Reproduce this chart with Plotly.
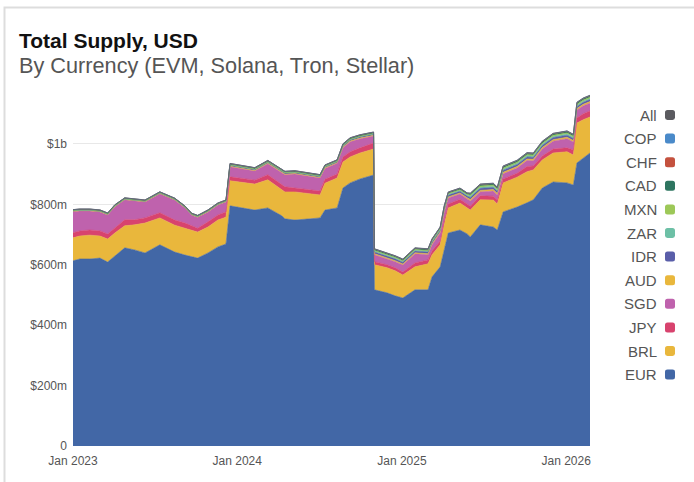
import plotly.graph_objects as go

# ---------------- data (values in $ millions) ----------------
dates = [
    "2023-01-01", "2023-01-16", "2023-02-07", "2023-03-02", "2023-03-19", "2023-04-04",
    "2023-04-26", "2023-05-18", "2023-06-10", "2023-07-13", "2023-08-15", "2023-09-07",
    "2023-09-22", "2023-10-05", "2023-10-28", "2023-11-19", "2023-12-02", "2023-12-07",
    "2023-12-16", "2024-01-18", "2024-02-09", "2024-03-09", "2024-04-09", "2024-04-16",
    "2024-05-08", "2024-06-11", "2024-07-03", "2024-07-14", "2024-08-10", "2024-08-23",
    "2024-09-08", "2024-09-30", "2024-10-30", "2024-11-01", "2024-11-29", "2024-12-17",
    "2025-01-03", "2025-01-30", "2025-02-28", "2025-03-09", "2025-03-27", "2025-04-05",
    "2025-04-14", "2025-05-10", "2025-05-26", "2025-06-02", "2025-06-24", "2025-07-23",
    "2025-08-01", "2025-08-14", "2025-09-14", "2025-10-06", "2025-10-20", "2025-11-09",
    "2025-12-03", "2026-01-03", "2026-01-17", "2026-01-25", "2026-02-08", "2026-02-23",
]

EUR = [613, 619, 619, 622, 609, 629, 656, 649, 639, 666, 642, 632, 626, 622, 639, 659, 666, 669,
       795, 788, 781, 788, 762, 752, 748, 752, 755, 781, 788, 854, 871, 884, 897,
       517, 507, 497, 490, 517, 517, 560, 593, 649, 705, 715, 702, 692, 732, 725, 715,
       775, 791, 805, 815, 854, 874, 871, 864, 937, 954, 970]
BRL = [76, 76, 79, 73, 76, 76, 73, 83, 99, 89, 89, 89, 89, 86, 86, 89, 89, 89,
       83, 83, 86, 93, 86, 89, 93, 83, 76, 89, 99, 86, 86, 86, 86,
       83, 83, 83, 76, 76, 86, 73, 73, 83, 83, 89, 86, 89, 83, 89, 86,
       96, 99, 103, 99, 93, 96, 103, 99, 132, 126, 119]
JPY = [17, 17, 17, 17, 17, 17, 20, 17, 17, 17, 17, 17, 13, 13, 17, 17, 17, 17,
       13, 13, 13, 17, 17, 17, 13, 13, 13, 13, 13, 17, 17, 17, 20,
       10, 10, 10, 10, 13, 13, 13, 13, 13, 13, 13, 13, 13, 13, 13, 13,
       13, 13, 17, 13, 13, 13, 13, 17, 17, 20, 20]
SGD = [70, 66, 63, 63, 63, 70, 66, 63, 53, 63, 66, 50, 36, 36, 33, 33, 33, 33,
       33, 33, 30, 36, 40, 40, 46, 43, 43, 36, 36, 30, 33, 30, 23,
       23, 20, 20, 23, 30, 17, 20, 26, 30, 20, 17, 17, 17, 13, 17, 17,
       17, 17, 20, 17, 23, 26, 30, 26, 26, 26, 26]
AUD = [1.0, 1.0, 1.0, 1.0, 1.0, 1.0, 1.0, 1.0, 1.0, 1.0, 1.0, 1.0, 1.0, 1.0, 1.0, 1.0, 1.0, 1.0,
       2.0, 2.0, 2.0, 2.0, 2.0, 2.0, 2.0, 2.0, 2.0, 2.0, 2.0, 2.5, 2.5, 2.5, 2.5,
       3.5, 3.5, 3.5, 3.5, 3.5, 3.5, 3.5, 3.5, 3.5, 3.5, 3.5, 3.5, 5.0, 5.0, 5.0, 5.0,
       5.0, 5.0, 5.0, 5.0, 5.0, 5.0, 5.0, 5.0, 5.0, 5.0, 5.0]
IDR = [1.5, 1.5, 1.5, 1.5, 1.5, 1.5, 1.5, 1.5, 1.5, 1.5, 1.5, 1.5, 1.5, 1.5, 1.5, 1.5, 1.5, 1.5,
       3.5, 3.5, 3.5, 3.5, 3.5, 3.5, 3.5, 3.5, 3.5, 3.5, 3.5, 4.0, 4.0, 4.0, 4.0,
       6.0, 6.0, 6.0, 6.0, 6.0, 6.0, 6.0, 6.0, 6.0, 6.0, 6.0, 6.0, 7.0, 7.0, 7.0, 7.0,
       7.0, 7.0, 7.0, 7.0, 7.0, 7.0, 7.0, 7.0, 7.0, 7.0, 7.0]
ZAR = [0.4, 0.4, 0.4, 0.4, 0.4, 0.4, 0.4, 0.4, 0.4, 0.4, 0.4, 0.4, 0.4, 0.4, 0.4, 0.4, 0.4, 0.4,
       0.8, 0.8, 0.8, 0.8, 0.8, 0.8, 0.8, 0.8, 0.8, 0.8, 0.8, 1.0, 1.0, 1.0, 1.0,
       2.5, 2.5, 2.5, 2.5, 2.5, 2.5, 2.5, 2.5, 2.5, 2.5, 2.5, 2.5, 3.5, 3.5, 3.5, 3.5,
       3.5, 3.5, 3.5, 3.5, 3.5, 3.5, 3.5, 3.5, 3.5, 3.5, 3.5]
MXN = [0.4, 0.4, 0.4, 0.4, 0.4, 0.4, 0.4, 0.4, 0.4, 0.4, 0.4, 0.4, 0.4, 0.4, 0.4, 0.4, 0.4, 0.4,
       0.8, 0.8, 0.8, 0.8, 0.8, 0.8, 0.8, 0.8, 0.8, 0.8, 0.8, 1.0, 1.0, 1.0, 1.0,
       2.5, 2.5, 2.5, 2.5, 2.5, 2.5, 2.5, 2.5, 2.5, 2.5, 2.5, 2.5, 4.0, 4.0, 4.0, 4.0,
       4.0, 4.0, 4.0, 4.0, 4.0, 4.0, 4.0, 4.0, 4.0, 4.0, 4.0]
CAD = [2.6, 2.6, 2.6, 2.6, 2.6, 2.6, 2.6, 2.6, 2.6, 2.6, 2.6, 2.6, 2.6, 2.6, 2.6, 2.6, 2.6, 2.6,
       3.5, 3.5, 3.5, 3.5, 3.5, 3.5, 3.5, 3.5, 3.5, 3.5, 3.5, 4.0, 4.0, 4.0, 4.0,
       4.0, 4.0, 4.0, 4.0, 4.0, 4.0, 4.0, 4.0, 4.0, 4.0, 4.0, 4.0, 4.5, 4.5, 4.5, 4.5,
       4.5, 4.5, 4.5, 4.5, 4.5, 4.5, 4.5, 4.5, 4.5, 4.5, 4.5]
CHF = [0.3, 0.3, 0.3, 0.3, 0.3, 0.3, 0.3, 0.3, 0.3, 0.3, 0.3, 0.3, 0.3, 0.3, 0.3, 0.3, 0.3, 0.3,
       0.4, 0.4, 0.4, 0.4, 0.4, 0.4, 0.4, 0.4, 0.4, 0.4, 0.4, 0.5, 0.5, 0.5, 0.5,
       0.8, 0.8, 0.8, 0.8, 0.8, 0.8, 0.8, 0.8, 0.8, 0.8, 0.8, 0.8, 1.2, 1.2, 1.2, 1.2,
       1.2, 1.2, 1.2, 1.2, 1.2, 1.2, 1.2, 1.2, 1.2, 1.2, 1.2]
COP = [0.1, 0.1, 0.1, 0.1, 0.1, 0.1, 0.1, 0.1, 0.1, 0.1, 0.1, 0.1, 0.1, 0.1, 0.1, 0.1, 0.1, 0.1,
       0.2, 0.2, 0.2, 0.2, 0.2, 0.2, 0.2, 0.2, 0.2, 0.2, 0.2, 0.2, 0.2, 0.2, 0.2,
       0.3, 0.3, 0.3, 0.3, 0.3, 0.3, 0.3, 0.3, 0.3, 0.3, 0.3, 0.3, 0.5, 0.5, 0.5, 0.5,
       0.5, 0.5, 0.5, 0.5, 0.5, 0.5, 0.5, 0.5, 0.5, 0.5, 0.5]
ALL = [0.3, 0.3, 0.3, 0.3, 0.3, 0.3, 0.3, 0.3, 0.3, 0.3, 0.3, 0.3, 0.3, 0.3, 0.3, 0.3, 0.3, 0.3,
       0.3, 0.3, 0.3, 0.3, 0.3, 0.3, 0.3, 0.3, 0.3, 0.3, 0.3, 0.3, 0.3, 0.3, 0.3,
       0.4, 0.4, 0.4, 0.4, 0.4, 0.4, 0.4, 0.4, 0.4, 0.4, 0.4, 0.4, 0.5, 0.5, 0.5, 0.5,
       0.5, 0.5, 0.5, 0.5, 0.5, 0.5, 0.5, 0.5, 0.5, 0.5, 0.5]

names = ["EUR", "BRL", "JPY", "SGD", "AUD", "IDR", "ZAR", "MXN", "CAD", "CHF", "COP", "All"]
values = [EUR, BRL, JPY, SGD, AUD, IDR, ZAR, MXN, CAD, CHF, COP, ALL]
colors = ["#4267a6", "#e9b73c", "#d8436e", "#bf62ad", "#e9b73c", "#5a5ea9",
          "#6dc0a6", "#9dc858", "#2e7560", "#c4513e", "#4a8ac9", "#5b5b60"]

y_tickvals = [0, 200e6, 400e6, 600e6, 800e6, 1e9]
y_ticktext = ["0", "$200m", "$400m", "$600m", "$800m", "$1b"]
x_tickvals = ["2023-01-01", "2024-01-01", "2025-01-01", "2026-01-01"]
x_ticktext = ["Jan 2023", "Jan 2024", "Jan 2025", "Jan 2026"]

# ---------------- figure ----------------
W, H = 694, 482
L, R, T, B = 73, 104, 85, 36
FONT = "Liberation Sans, Arial, Helvetica, sans-serif"


def px(x):
    return (x - L) / (W - L - R)


def py(y):
    return (H - B - y) / (H - T - B)


fig = go.Figure()
for name, vals, col in zip(names, values, colors):
    fig.add_trace(go.Scatter(
        x=dates, y=[v * 1e6 for v in vals], name=name, mode="lines",
        stackgroup="one", line=dict(width=0.6, color=col), fillcolor=col,
        showlegend=False, hoverinfo="skip",
    ))

annotations = [
    dict(text="<b>Total Supply, USD</b>", x=px(17), y=py(40), xref="paper", yref="paper",
         xanchor="left", yanchor="middle", showarrow=False,
         font=dict(family=FONT, size=21, color="#111111")),
    dict(text="By Currency (EVM, Solana, Tron, Stellar)", x=px(17), y=py(65),
         xref="paper", yref="paper", xanchor="left", yanchor="middle", showarrow=False,
         font=dict(family=FONT, size=21.7, color="#555555")),
]

shapes = [
    dict(type="rect", xref="paper", yref="paper", x0=px(4.5), x1=px(698),
         y0=py(495), y1=py(7.5), line=dict(color="#dddddd", width=2),
         fillcolor="rgba(0,0,0,0)", layer="below"),
]


def rounded(x0, y0, x1, y1, r):
    pts = [
        ("M", [(x0 + r, y0)]), ("L", [(x1 - r, y0)]), ("Q", [(x1, y0), (x1, y0 + r)]),
        ("L", [(x1, y1 - r)]), ("Q", [(x1, y1), (x1 - r, y1)]), ("L", [(x0 + r, y1)]),
        ("Q", [(x0, y1), (x0, y1 - r)]), ("L", [(x0, y0 + r)]), ("Q", [(x0, y0), (x0 + r, y0)]),
    ]
    s = ""
    for cmd, ps in pts:
        s += cmd + " " + " ".join(f"{px(a):.5f},{py(b):.5f}" for a, b in ps) + " "
    return s + "Z"


for i, (name, col) in enumerate(zip(reversed(names), reversed(colors))):
    yc = 115 + 23.6 * i
    annotations.append(dict(text=name, x=px(659), y=py(yc), xref="paper", yref="paper",
                            xanchor="right", yanchor="middle", showarrow=False,
                            font=dict(family=FONT, size=15, color="#555555")))
    shapes.append(dict(type="path", xref="paper", yref="paper",
                       path=rounded(665, yc - 5, 675, yc + 5, 2.5),
                       fillcolor=col, line=dict(width=0)))

fig.update_layout(
    width=W, height=H,
    margin=dict(l=L, r=R, t=T, b=B, pad=0),
    paper_bgcolor="white", plot_bgcolor="white",
    font=dict(family=FONT, size=12, color="#555555"),
    showlegend=False,
    hovermode=False,
    annotations=annotations,
    shapes=shapes,
    xaxis=dict(type="date", range=["2023-01-01", "2026-02-23"],
               tickvals=x_tickvals, ticktext=x_ticktext, showgrid=False,
               zeroline=False, showline=False, ticks="", ticklabelstandoff=6,
               tickfont=dict(family=FONT, size=12, color="#555555")),
    yaxis=dict(range=[0, 1.195e9], tickvals=y_tickvals, ticktext=y_ticktext,
               showgrid=True, gridcolor="#e8e8e8", gridwidth=1, zeroline=False,
               showline=False, ticks="", ticklabelstandoff=5,
               tickfont=dict(family=FONT, size=12, color="#555555")),
)

fig.write_html(
    "out.html",
    config={"displayModeBar": False, "staticPlot": True},
    post_script="document.body.style.margin='0';document.body.style.overflow='hidden';",
)
